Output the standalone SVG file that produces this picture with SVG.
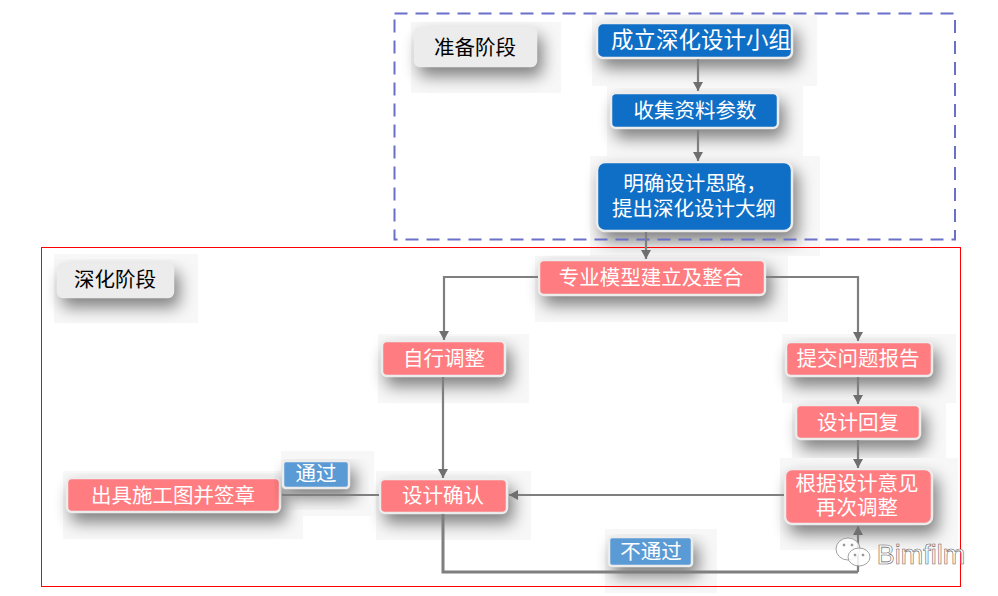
<svg xmlns="http://www.w3.org/2000/svg" width="998" height="596" viewBox="0 0 998 596">
<style>
text{font-family:"Liberation Sans","Noto Sans CJK SC",sans-serif;font-size:20.500px;text-anchor:middle;fill:#fff}
.k{fill:#000}
.box{stroke:#ececec;stroke-width:2.5;filter:url(#sh)}
.bg{fill:#f7f7f7}
.blue{fill:#0f6fc6}.red{fill:#ff7c80}.gray{fill:#ececec}.sky{fill:#5b9bd5}
.c{fill:none;stroke:#7f7f7f;stroke-width:2.200;marker-end:url(#a)}
.n{fill:none;stroke:#7f7f7f;stroke-width:2.200}
</style>
<defs>
<filter id="sh" x="-20%" y="-40%" width="150%" height="220%" color-interpolation-filters="sRGB">
<feGaussianBlur in="SourceAlpha" stdDeviation="8" result="b"/>
<feOffset in="b" dx="5" dy="9" result="o"/>
<feFlood flood-color="#000" flood-opacity=".48"/>
<feComposite in2="o" operator="in" result="s"/>
<feMerge><feMergeNode in="s"/><feMergeNode in="SourceGraphic"/></feMerge>
</filter>
<marker id="a" markerUnits="userSpaceOnUse" markerWidth="11" markerHeight="10" refX="9" refY="5" orient="auto"><path d="M0 0L9 5L0 10Z" fill="#6f6f6f"/></marker>
</defs>
<g id="n-prep"><rect class="bg" x="411" y="22" width="150" height="71"/><rect class="box gray" x="415" y="28" width="121" height="38" rx="5"/><text class="k" x="475" y="55">准备阶段</text></g>
<g id="n-team"><rect class="bg" x="592" y="15" width="225" height="71"/><rect class="box blue" x="597" y="23" width="195" height="35" rx="6"/><text x="701" y="48" style="font-size:22.500px">成立深化设计小组</text></g>
<g id="n-collect"><rect class="bg" x="607" y="86" width="196" height="70"/><rect class="box blue" x="611" y="93" width="167" height="35" rx="5"/><text x="695" y="118">收集资料参数</text></g>
<g id="n-outline"><rect class="bg" x="590" y="156" width="230" height="100"/><rect class="box blue" x="597" y="162" width="195" height="69" rx="8"/><text x="695" y="191">明确设计思路，</text><text x="694" y="216">提出深化设计大纲</text></g>
<g id="n-deep"><rect class="bg" x="54" y="254" width="144" height="69"/><rect class="box gray" x="58" y="264" width="115" height="33" rx="5"/><text class="k" x="115" y="287">深化阶段</text></g>
<g id="n-model"><rect class="bg" x="535" y="256" width="253" height="66"/><rect class="box red" x="539" y="260" width="226" height="35" rx="5"/><text x="651" y="285">专业模型建立及整合</text></g>
<g id="n-self"><rect class="bg" x="378" y="334" width="151" height="69"/><rect class="box red" x="382" y="341" width="123" height="35" rx="5"/><text x="444" y="366">自行调整</text></g>
<g id="n-report"><rect class="bg" x="782" y="334" width="174" height="69"/><rect class="box red" x="786" y="342" width="146" height="34" rx="5"/><text x="858" y="366">提交问题报告</text></g>
<g id="n-reply"><rect class="bg" x="792" y="403" width="154" height="62"/><rect class="box red" x="796" y="405" width="124" height="34" rx="5"/><text x="858" y="430">设计回复</text></g>
<g id="n-again"><rect class="bg" x="780" y="458" width="178" height="92"/><rect class="box red" x="785" y="469" width="147" height="55" rx="7"/><text x="857" y="491">根据设计意见</text><text x="857" y="515">再次调整</text></g>
<g id="n-confirm"><rect class="bg" x="376" y="471" width="155" height="69"/><rect class="box red" x="380" y="479" width="127" height="34" rx="5"/><text x="443" y="503">设计确认</text></g>
<g id="n-issue"><rect class="bg" x="63" y="471" width="240" height="68"/><rect class="box red" x="67" y="478" width="213" height="34" rx="5"/><text x="173" y="503">出具施工图并签章</text></g>
<g id="n-pass"><path class="bg" d="M281 451H374V516H303V471H281Z"/><rect class="box sky" x="283" y="461" width="66" height="27" rx="3"/><text x="316" y="481">通过</text></g>
<g id="n-fail"><rect class="bg" x="605" y="529" width="112" height="64"/><rect class="box sky" x="609" y="537" width="83" height="29" rx="3"/><text x="651" y="559">不通过</text></g>
<rect x="41.5" y="247.5" width="919" height="339" fill="none" stroke="#f00" stroke-width="1"/>
<rect x="394.500" y="13.500" width="560.500" height="226" fill="none" stroke="#6a6fc8" stroke-width="2" stroke-dasharray="13 8"/>
<g id="connectors">
<path class="c" d="M698 59V91"/>
<path class="c" d="M698 130V161"/>
<path class="c" d="M646 232V259"/>
<path class="c" d="M538 277H444V340"/>
<path class="c" d="M766 277H858V341"/>
<path class="c" d="M443 377V478"/>
<path class="c" d="M858 377V404"/>
<path class="c" d="M858 440V468"/>
<path class="c" d="M784 495H509"/>
<path class="n" d="M379 495H282"/>
<path class="n" d="M443 514V572H858" style="stroke-width:3"/>
<path class="c" d="M858 572V526"/>
</g>
<g id="watermark" fill="#fff" fill-opacity=".85" stroke="#8a8a8a" stroke-width=".8">
<ellipse cx="848" cy="549" rx="12" ry="11"/><ellipse cx="859" cy="557" rx="11" ry="9"/>
<circle cx="844" cy="545" r="1" fill="#8a8a8a"/><circle cx="852" cy="545" r="1" fill="#8a8a8a"/><circle cx="855" cy="555" r="1" fill="#8a8a8a"/><circle cx="863" cy="555" r="1" fill="#8a8a8a"/>
<text x="921" y="564" style="font-size:27px;fill:#fff;stroke:#666;stroke-width:.6">Bimfilm</text>
</g>
</svg>
